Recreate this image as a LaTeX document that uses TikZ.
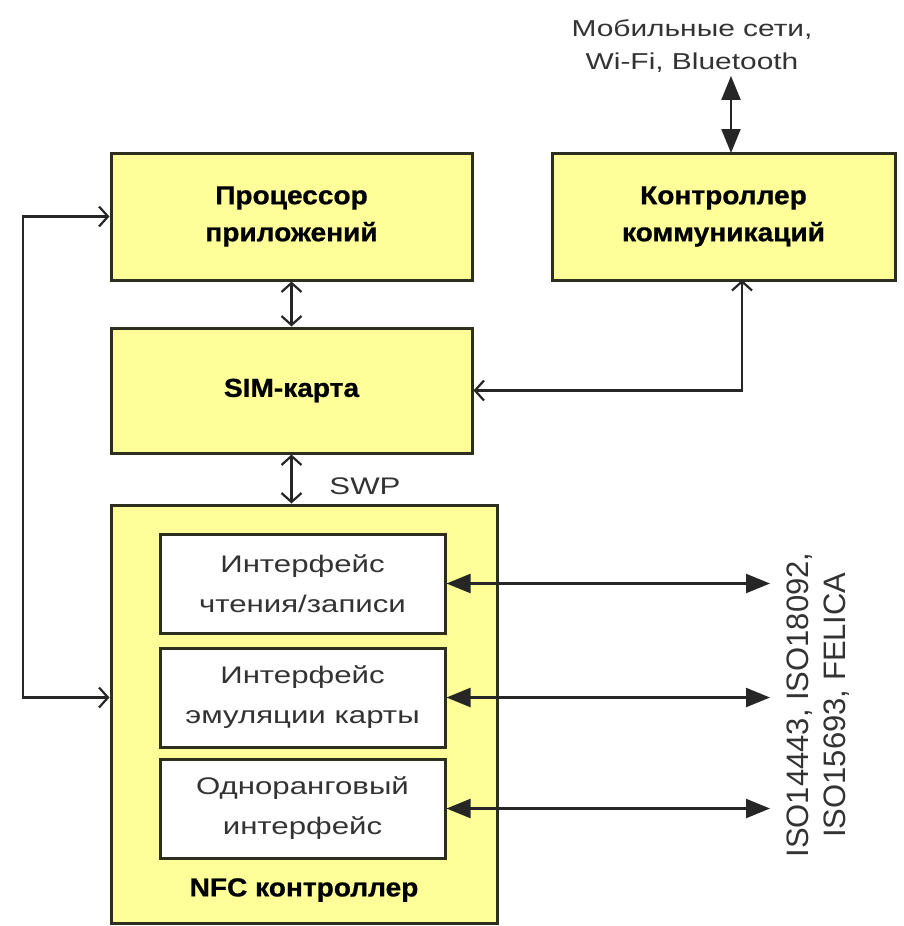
\documentclass[tikz,border=0pt]{standalone}
\usepackage{fontspec}
\setmainfont{Liberation Sans}
\newfontfamily\widefont{Liberation Sans}[FakeStretch=1.3]
\newfontfamily\headfont{Liberation Sans Bold}[FakeStretch=1.08,FakeBold=0.8]
\usetikzlibrary{arrows.meta,calc}
\definecolor{boxfill}{HTML}{FFFF99}
\definecolor{boxedge}{HTML}{2E2E1E}
\definecolor{txtgrey}{HTML}{333333}
\begin{document}
\begin{tikzpicture}[x=1pt,y=-1pt,
  block/.style={draw=boxedge,line width=3pt,fill=boxfill,rectangle,inner sep=0pt},
  subblock/.style={draw=boxedge,line width=3pt,fill=white,rectangle,inner sep=0pt,
    minimum width=285pt,minimum height=99pt,align=center,
    font=\widefont\fontsize{24}{40}\selectfont,text=txtgrey},
  headtext/.style={align=center,font=\headfont\fontsize{26}{37}\selectfont,text=black},
  link/.style={line width=2.2pt,draw=black!85},
  openends/.style={link,{Straight Barb[length=9pt,width=20pt]}-{Straight Barb[length=9pt,width=20pt]}},
  solidends/.style={link,{Triangle[length=24pt,width=19pt]}-{Triangle[length=24pt,width=19pt]}}]
  \useasboundingbox[fill=white] (0,0) rectangle (903,926);

  % main blocks
  \node[block,minimum width=361pt,minimum height=127pt,headtext] (proc) at (291.5,216.5)
    {Процессор\\приложений};
  \node[block,minimum width=343pt,minimum height=127pt,headtext] (comm) at (723.5,216.5)
    {Контроллер\\коммуникаций};
  \node[block,minimum width=361pt,minimum height=125pt,headtext] (sim) at (291.5,390.5)
    {SIM-карта};
  \node[block,minimum width=386pt,minimum height=418pt] (nfc) at (304,714) {};
  \node[headtext] (nfclabel) at (304,890) {NFC контроллер};

  % interfaces inside the NFC controller
  \node[subblock] (if1) at (302.5,583.5) {Интерфейс\\чтения/записи};
  \node[subblock] (if2) at (302.5,697.5) {Интерфейс\\эмуляции карты};
  \node[subblock] (if3) at (302.5,808.5) {Одноранговый\\интерфейс};

  % external labels
  \node[align=center,font=\widefont\fontsize{23}{33}\selectfont,text=txtgrey] (mob) at (692,46)
    {Мобильные сети,\\Wi-Fi, Bluetooth};
  \node[rotate=90,align=center,font=\fontsize{31}{37}\selectfont,text=txtgrey] (iso) at (818.5,705)
    {ISO14443, ISO18092,\\ISO15693, FELICA};
  \node[font=\widefont\fontsize{24}{28}\selectfont,text=txtgrey] (swp) at (365,486) {SWP};

  % helper coordinates for free ends and bends
  \coordinate (lx) at (23,450);
  \coordinate (rx) at (770,700);
  \coordinate (mx) at (731,153);
  \coordinate (cx) at (742,280);

  % connectors
  \draw[openends] (proc.south) -- (sim.north);
  \draw[openends] (sim.south) -- (sim.south |- nfc.north);
  \draw[openends] (proc.west) -| (lx) |- (nfc.west |- if2.west);
  \draw[openends] (cx) |- (sim.east);
  \draw[solidends] (mx) -- (mx |- mob.south);
  \draw[solidends] (if1.east) -- (if1.east -| rx);
  \draw[solidends] (if2.east) -- (if2.east -| rx);
  \draw[solidends] (if3.east) -- (if3.east -| rx);
\end{tikzpicture}
\end{document}
